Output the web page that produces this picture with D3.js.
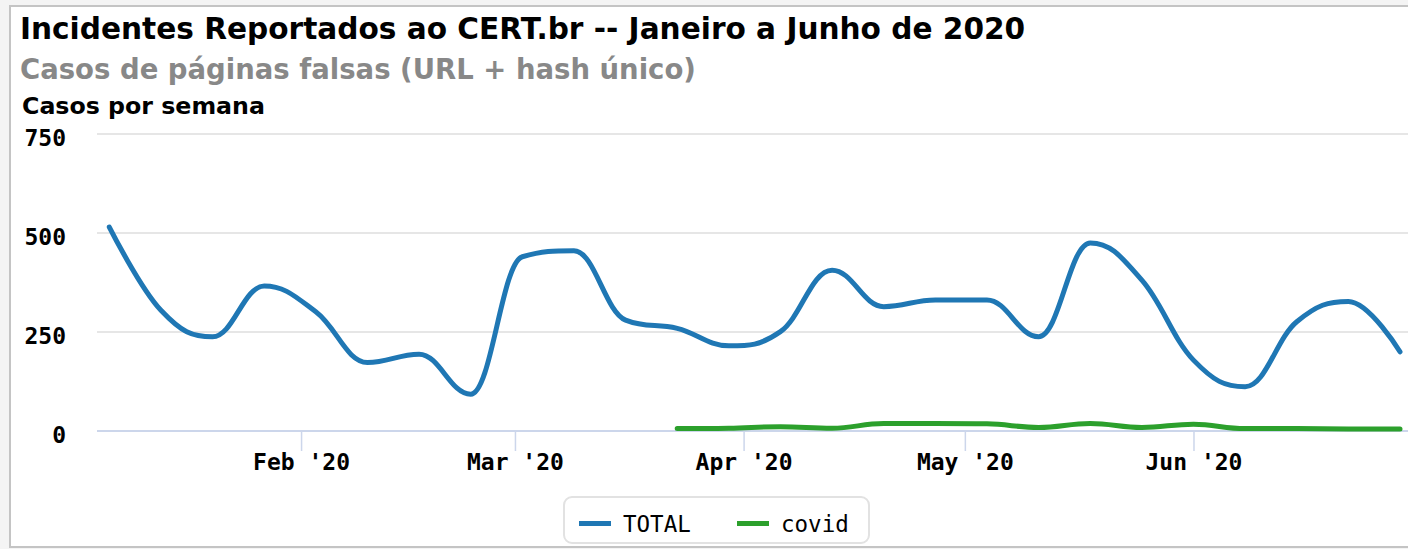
<!DOCTYPE html>
<html>
<head>
<meta charset="utf-8">
<script src="https://cdn.jsdelivr.net/npm/d3@7"></script>
<style>
  html, body { margin: 0; padding: 0; background: #f4f4f4; }
  svg { display: block; }
</style>
</head>
<body>
<svg id="chart" width="1408" height="549"></svg>
<script>
// ---- data ----
const titleText = "Incidentes Reportados ao CERT.br -- Janeiro a Junho de 2020";
const subtitleText = "Casos de páginas falsas (URL + hash único)";
const yAxisTitle = "Casos por semana";
const weeks = ["2020-01-06","2020-01-13","2020-01-20","2020-01-27","2020-02-03","2020-02-10",
  "2020-02-17","2020-02-24","2020-03-02","2020-03-09","2020-03-16","2020-03-23","2020-03-30",
  "2020-04-06","2020-04-13","2020-04-20","2020-04-27","2020-05-04","2020-05-11","2020-05-18",
  "2020-05-25","2020-06-01","2020-06-08","2020-06-15","2020-06-22","2020-06-29"];
const total = [515, 305, 238, 366, 301, 173, 194, 93, 440, 455, 280, 259, 215, 251, 406, 314,
  331, 331, 238, 475, 381, 179, 112, 276, 327, 200];
const covid = [null, null, null, null, null, null, null, null, null, null, null, 6, 7, 11, 7, 19,
  19, 18, 9, 19, 9, 17, 6, 6, 5, 5];
const yTicks = [0, 250, 500, 750];
const seriesNames = ["TOTAL", "covid"];
const seriesColors = ["#1f77b4", "#2ca02c"];

// ---- Highcharts-like spline curve ----
function HCSpline(ctx) { this._ctx = ctx; }
HCSpline.prototype = {
  areaStart() {}, areaEnd() {},
  lineStart() { this._pts = []; },
  point(x, y) { this._pts.push([+x, +y]); },
  lineEnd() {
    const p = this._pts, c = this._ctx, s = 1.5, d = s + 1;
    if (!p.length) return;
    c.moveTo(p[0][0], p[0][1]);
    let prevR = null;
    for (let i = 1; i < p.length; i++) {
      const x = p[i][0], y = p[i][1];
      let lcx = x, lcy = y, rc = null;
      if (i < p.length - 1) {
        const lx = p[i-1][0], ly = p[i-1][1], nx = p[i+1][0], ny = p[i+1][1];
        lcx = (s * x + lx) / d; lcy = (s * y + ly) / d;
        let rcx = (s * x + nx) / d, rcy = (s * y + ny) / d;
        let corr = 0;
        if (rcx !== lcx) corr = ((rcy - lcy) * (rcx - x)) / (rcx - lcx) + y - rcy;
        lcy += corr; rcy += corr;
        if (lcy > ly && lcy > y) { lcy = Math.max(ly, y); rcy = 2 * y - lcy; }
        else if (lcy < ly && lcy < y) { lcy = Math.min(ly, y); rcy = 2 * y - lcy; }
        if (rcy > ny && rcy > y) { rcy = Math.max(ny, y); lcy = 2 * y - rcy; }
        else if (rcy < ny && rcy < y) { rcy = Math.min(ny, y); lcy = 2 * y - rcy; }
        rc = [rcx, rcy];
      }
      const pr = prevR || p[i-1];
      c.bezierCurveTo(pr[0], pr[1], lcx, lcy, x, y);
      prevR = rc;
    }
  }
};
const curveHC = ctx => new HCSpline(ctx);

// ---- layout ----
const W = 1408, H = 549;
const plotLeft = 97, plotRight = 1408;
const svg = d3.select("#chart");

// container frame
svg.append("rect").attr("x", 10).attr("y", 6).attr("width", W + 20).attr("height", 541)
  .attr("fill", "#ffffff").attr("stroke", "#c4c4c4").attr("stroke-width", 2);

const parse = d3.utcParse("%Y-%m-%d");
const dates = weeks.map(parse);
const x = d3.scaleUtc().domain([dates[0], dates[dates.length - 1]]).range([109.3, 1400]);
const y = d3.scaleLinear().domain([0, 750]).range([431, 134]);

// gridlines
svg.append("g").selectAll("line").data(yTicks.filter(v => v !== 0)).join("line")
  .attr("x1", plotLeft).attr("x2", plotRight)
  .attr("y1", d => y(d)).attr("y2", d => y(d))
  .attr("stroke", "#e6e6e6").attr("stroke-width", 2);

// y labels
svg.append("g").selectAll("text").data(yTicks).join("text")
  .attr("x", 66).attr("y", d => y(d) + 12)
  .attr("text-anchor", "end")
  .attr("font-family", "DejaVu Sans Mono").attr("font-weight", "bold").attr("font-size", 23)
  .attr("fill", "#000").text(d => d);

// x axis line
svg.append("line").attr("x1", plotLeft).attr("x2", plotRight)
  .attr("y1", y(0)).attr("y2", y(0)).attr("stroke", "#ccd6eb").attr("stroke-width", 2);

// x axis ticks
const fmt = d3.utcFormat("%b '%y");
const xAxis = d3.axisBottom(x).ticks(d3.utcMonth.every(1)).tickFormat(fmt)
  .tickSize(20).tickPadding(3);
const gx = svg.append("g").attr("transform", `translate(0,${y(0)})`).call(xAxis);
gx.select(".domain").remove();
gx.selectAll(".tick line").attr("stroke", "#ccd6eb").attr("stroke-width", 1.5);
gx.selectAll(".tick text").attr("font-family", "DejaVu Sans Mono").attr("font-weight", "bold")
  .attr("font-size", 23).attr("fill", "#000");

// lines
const seriesData = [total, covid];
seriesData.forEach((vals, i) => {
  const line = d3.line()
    .defined(d => d != null)
    .x((d, j) => x(dates[j]))
    .y(d => y(d))
    .curve(curveHC);
  svg.append("path").datum(vals).attr("d", line)
    .attr("fill", "none").attr("stroke", seriesColors[i]).attr("stroke-width", 5)
    .attr("stroke-linecap", "round").attr("stroke-linejoin", "round");
});

// titles
svg.append("text").attr("x", 20).attr("y", 39).text(titleText)
  .attr("font-family", "DejaVu Sans").attr("font-weight", "bold").attr("font-size", 29.6).attr("fill", "#000");
svg.append("text").attr("x", 20).attr("y", 79).text(subtitleText)
  .attr("font-family", "DejaVu Sans").attr("font-weight", "bold").attr("font-size", 27.5).attr("fill", "#888888");
svg.append("text").attr("x", 22).attr("y", 114).text(yAxisTitle)
  .attr("font-family", "DejaVu Sans").attr("font-weight", "bold").attr("font-size", 23.7).attr("fill", "#000");

// legend
const lg = svg.append("g");
lg.append("rect").attr("x", 564).attr("y", 497).attr("width", 305).attr("height", 46)
  .attr("rx", 8).attr("fill", "#fff").attr("stroke", "#e2e2e2").attr("stroke-width", 2);
const legendX = [579, 737];
seriesNames.forEach((name, i) => {
  lg.append("line").attr("x1", legendX[i]).attr("x2", legendX[i] + 32)
    .attr("y1", 523.5).attr("y2", 523.5)
    .attr("stroke", seriesColors[i]).attr("stroke-width", 5);
  lg.append("text").attr("x", legendX[i] + 44).attr("y", 532).text(name)
    .attr("font-family", "DejaVu Sans Mono").attr("font-size", 22.5).attr("fill", "#000");
});
</script>
</body>
</html>
